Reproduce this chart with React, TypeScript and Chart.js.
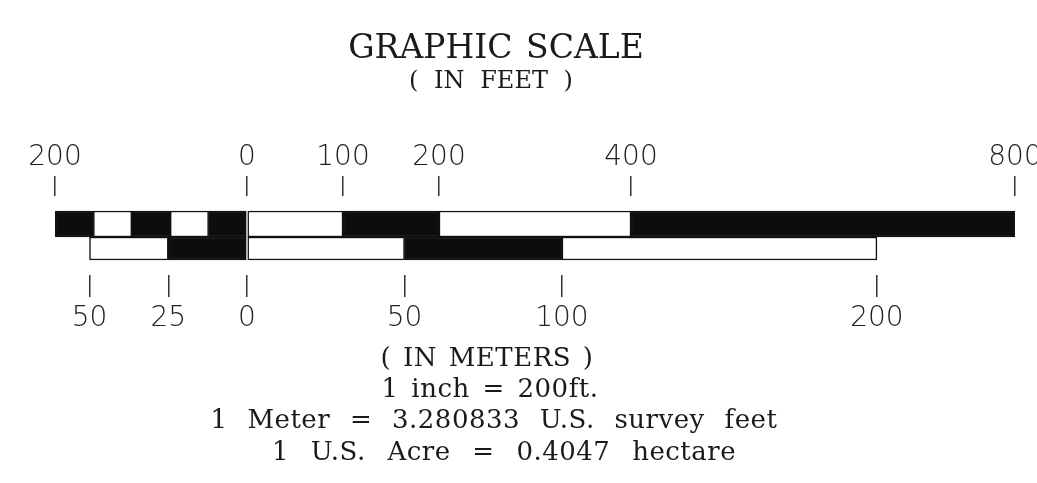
import React, { useEffect, useRef } from "react";
import { Chart, registerables } from "chart.js";

Chart.register(...registerables);

// ---- data ----
const FT_PER_M = 3.280833;
const feetMin = -200;
const feetMax = 800;
const feetTicks = [-200, 0, 100, 200, 400, 800];
const meterTicks = [-50, -25, 0, 50, 100, 200];

const feetBlack: [number, number][] = [[-200, -160], [-120, -80], [-40, 0], [100, 200], [400, 800]];
const feetWhite: [number, number][] = [[-160, -120], [-80, -40], [0, 100], [200, 400]];
const meterBlack: [number, number][] = [[-25, 0], [50, 100]];
const meterWhite: [number, number][] = [[-50, -25], [0, 50], [100, 200]];

const titleLines = ["GRAPHIC SCALE", "( IN FEET )"];
const noteLines = [
  "( IN METERS )",
  "1 inch = 200ft.",
  "1 Meter = 3.280833 U.S. survey feet",
  "1 U.S. Acre = 0.4047 hectare",
];

const ROW_FEET = 0;
const ROW_METERS = 1;

const textPlugin = {
  id: "scaleText",
  afterDraw(chart: any) {
    const ctx = chart.ctx as CanvasRenderingContext2D;
    ctx.save();
    ctx.fillStyle = "#1a1a1a";
    ctx.textAlign = "center";
    ctx.textBaseline = "alphabetic";
    const items: { t: string; x: number; y: number; f: string; ls: string; ws: string }[] = [
      { t: titleLines[0], x: 496, y: 58, f: "33px 'DejaVu Serif'", ls: "0px", ws: "3px" },
      { t: titleLines[1], x: 491, y: 88, f: "24px 'DejaVu Serif'", ls: "0px", ws: "8px" },
      { t: noteLines[0], x: 487, y: 366, f: "26px 'DejaVu Serif'", ls: "0.5px", ws: "3px" },
      { t: noteLines[1], x: 490, y: 397, f: "26px 'DejaVu Serif'", ls: "0.5px", ws: "4px" },
      { t: noteLines[2], x: 494, y: 428, f: "26px 'DejaVu Serif'", ls: "0.5px", ws: "11px" },
      { t: noteLines[3], x: 504, y: 460, f: "26px 'DejaVu Serif'", ls: "0.5px", ws: "13px" },
    ];
    for (const it of items) {
      ctx.font = it.f;
      (ctx as any).letterSpacing = it.ls;
      (ctx as any).wordSpacing = it.ws;
      ctx.fillText(it.t, it.x, it.y);
    }
    ctx.restore();
  },
};

function seg(list: [number, number][], row: number) {
  return list.map((r) => ({ x: r, y: row }));
}

export default function App() {
  const ref = useRef<HTMLCanvasElement>(null);
  useEffect(() => {
    const tickFont = { family: "'DejaVu Sans'", size: 28, weight: 300 as any };
    const common = { grouped: false, borderColor: "#111", borderWidth: 1.5, borderSkipped: false as any };
    const chart = new Chart(ref.current!, {
      type: "bar",
      data: {
        datasets: [
          { ...common, label: "feet black", data: seg(feetBlack, ROW_FEET) as any, backgroundColor: "#0d0d0d", xAxisID: "x", barThickness: 26 },
          { ...common, label: "feet white", data: seg(feetWhite, ROW_FEET) as any, backgroundColor: "#ffffff", xAxisID: "x", barThickness: 26 },
          { ...common, label: "meter black", data: seg(meterBlack, ROW_METERS) as any, backgroundColor: "#0d0d0d", xAxisID: "xm", barThickness: 23 },
          { ...common, label: "meter white", data: seg(meterWhite, ROW_METERS) as any, backgroundColor: "#ffffff", xAxisID: "xm", barThickness: 23 },
        ],
      },
      options: {
        indexAxis: "y",
        responsive: false,
        animation: false,
        layout: { padding: { top: 140, bottom: 147, left: 55, right: 22 } },
        plugins: { legend: { display: false }, tooltip: { enabled: false }, title: { display: false } },
        scales: {
          x: {
            type: "linear",
            axis: "x",
            position: "top",
            min: feetMin,
            max: feetMax,
            afterBuildTicks: (s: any) => { s.ticks = feetTicks.map((v) => ({ value: v })); },
            afterFit: (s: any) => { s.paddingLeft = 0; s.paddingRight = 0; s.paddingTop = 0; s.paddingBottom = 0; s.height = 56; },
            ticks: { autoSkip: false, maxRotation: 0, padding: 1, color: "#222", font: tickFont, callback: (v: any) => String(Math.abs(Number(v))) },
            grid: { drawOnChartArea: false, drawTicks: true, tickLength: 20, color: "#333", lineWidth: 1.5 },
            border: { display: false },
          },
          xm: {
            type: "linear",
            axis: "x",
            position: "bottom",
            min: feetMin / FT_PER_M,
            max: feetMax / FT_PER_M,
            afterBuildTicks: (s: any) => { s.ticks = meterTicks.map((v) => ({ value: v })); },
            afterFit: (s: any) => { s.paddingLeft = 0; s.paddingRight = 0; s.paddingTop = 0; s.paddingBottom = 0; s.height = 61; },
            ticks: { autoSkip: false, maxRotation: 0, padding: 5, color: "#222", font: tickFont, callback: (v: any) => String(Math.abs(Number(v))) },
            grid: { drawOnChartArea: false, drawTicks: true, tickLength: 22, color: "#333", lineWidth: 1.5 },
            border: { display: false },
          },
          y: {
            type: "linear",
            display: false,
            reverse: true,
            min: -1.14,
            max: 2.08,
            offset: false,
            grid: { offset: false },
          },
        },
      } as any,
      plugins: [textPlugin],
    });
    return () => chart.destroy();
  }, []);
  return (
    <div style={{ position: "fixed", left: 0, top: 0, width: 1037, height: 483, background: "#fff" }}>
      <canvas ref={ref} width={1037} height={483} style={{ display: "block" }} />
    </div>
  );
}
